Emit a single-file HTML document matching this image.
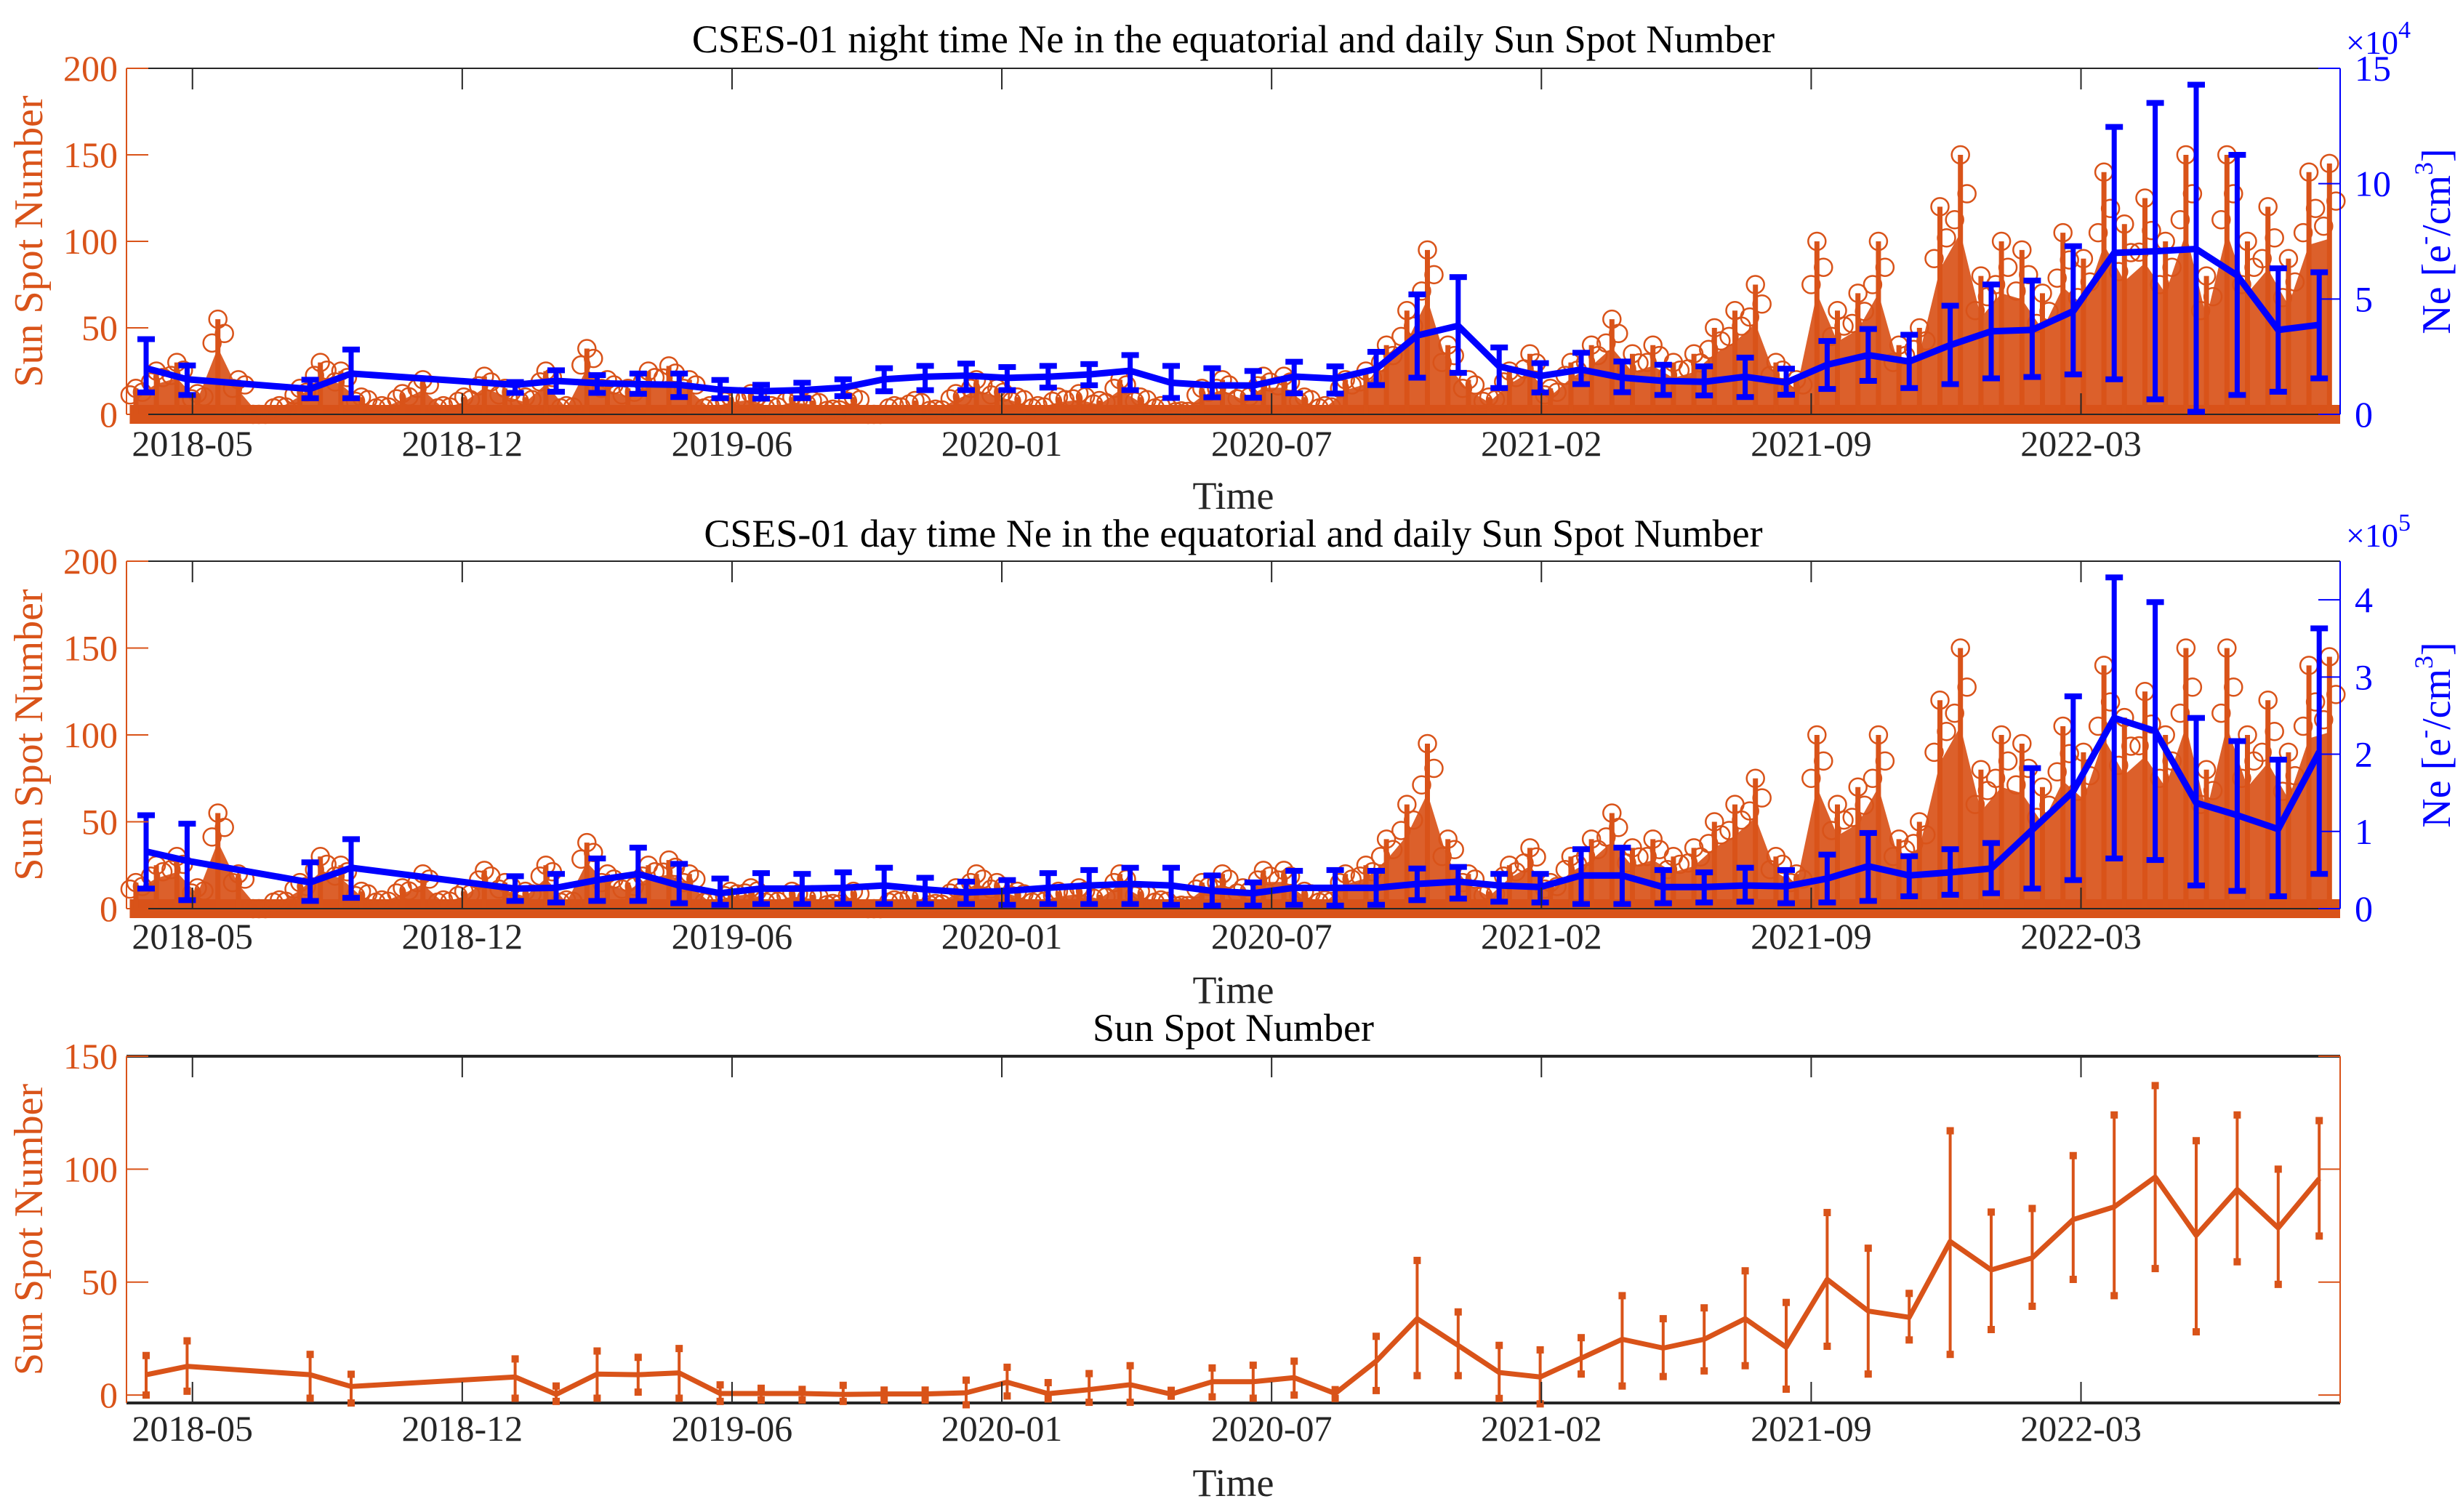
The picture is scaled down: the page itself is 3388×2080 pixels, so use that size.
<!DOCTYPE html>
<html><head><meta charset="utf-8">
<style>
html,body{margin:0;padding:0;background:#fff;}
svg{display:block;font-family:"Liberation Serif",serif;}
</style></head>
<body>
<svg id="chart" width="3388" height="2080" viewBox="0 0 3388 2080" xmlns="http://www.w3.org/2000/svg"></svg>
<script>
// ---------- data ----------
const tickMonths = [1.13, 7.71, 14.29, 20.87, 27.45, 34.03, 40.61, 47.19];
const tickLabels = ["2018-05","2018-12","2019-06","2020-01","2020-07","2021-02","2021-09","2022-03"];
const months = [0,1,4,5,9,10,11,12,13,14,15,16,17,18,19,20,21,22,23,24,25,26,27,28,29,30,31,32,33,34,35,36,37,38,39,40,41,42,43,44,45,46,47,48,49,50,51,52,53];
// night Ne (x1e4)
const neNight = [2.0,1.52,1.1,1.77,1.28,1.45,1.35,1.31,1.28,1.07,1.0,1.05,1.16,1.52,1.63,1.68,1.58,1.63,1.73,1.89,1.37,1.26,1.25,1.64,1.55,1.97,3.42,3.84,2.08,1.66,1.94,1.59,1.45,1.41,1.63,1.38,2.15,2.57,2.29,3.0,3.6,3.66,4.47,7.0,7.07,7.17,6.02,3.66,3.88];
const neNightLo = [0.95,0.84,0.7,0.7,0.93,0.98,0.93,0.89,0.75,0.7,0.68,0.7,0.79,1.0,1.05,1.05,1.05,1.16,1.26,1.05,0.71,0.74,0.72,0.91,0.9,1.27,1.59,1.8,1.14,0.95,1.31,0.96,0.84,0.82,0.75,0.85,1.1,1.45,1.14,1.31,1.56,1.62,1.73,1.52,0.65,0.11,0.84,0.98,1.56];
const neNightHi = [3.26,2.12,1.5,2.81,1.4,1.91,1.7,1.77,1.77,1.49,1.28,1.37,1.52,2.0,2.1,2.2,2.05,2.1,2.18,2.57,2.1,2.0,1.88,2.28,2.08,2.71,5.2,5.95,2.9,2.22,2.67,2.29,2.15,2.08,2.46,1.98,3.18,3.7,3.45,4.71,5.63,5.8,7.29,12.46,13.5,14.29,11.25,6.33,6.16];
// day Ne (x1e5)
const neDay = [0.74,0.62,0.34,0.53,0.26,0.27,0.37,0.45,0.3,0.2,0.26,0.26,0.27,0.3,0.25,0.21,0.23,0.27,0.3,0.32,0.3,0.23,0.2,0.27,0.27,0.27,0.32,0.35,0.3,0.28,0.43,0.43,0.28,0.28,0.3,0.29,0.39,0.55,0.43,0.47,0.52,1.02,1.52,2.47,2.3,1.37,1.21,1.03,2.03];
const neDayLo = [0.26,0.11,0.1,0.14,0.1,0.08,0.1,0.1,0.07,0.05,0.06,0.06,0.06,0.06,0.06,0.06,0.05,0.06,0.06,0.06,0.05,0.04,0.04,0.05,0.04,0.05,0.11,0.13,0.09,0.08,0.06,0.06,0.07,0.08,0.09,0.07,0.08,0.1,0.16,0.18,0.2,0.26,0.37,0.65,0.63,0.3,0.23,0.16,0.45];
const neDayHi = [1.21,1.1,0.6,0.9,0.42,0.45,0.65,0.79,0.58,0.39,0.46,0.45,0.47,0.53,0.4,0.35,0.37,0.46,0.5,0.53,0.53,0.43,0.34,0.49,0.5,0.49,0.52,0.54,0.45,0.45,0.77,0.79,0.5,0.47,0.53,0.5,0.7,0.98,0.68,0.77,0.85,1.82,2.75,4.29,3.97,2.47,2.17,1.93,3.63];
// monthly SSN
const ssnMean = [9,12.7,9,3.8,8,0.3,9.3,9,9.8,0.7,0.7,0.7,0.3,0.5,0.5,1,5.7,0.6,2.4,4.6,0.4,5.9,5.9,7.7,0.7,15,33.8,22,10,8,16.3,24.7,20.8,24.7,33.8,21.2,51.2,37.2,34.4,68,55.4,60.7,77.7,83.3,96.5,70.7,91,74,95.8];
const ssnLo = [0,1.7,-1.4,-3.5,-1.4,-2.8,-1.4,1.3,-1.4,-2.8,-2.2,-2.2,-2.8,-2.2,-2.2,-4.3,-0.4,-1.7,-3.2,-3.2,-0.5,-0.8,-1.4,0.0,-1.5,2,8.6,8.6,-1.5,-3.9,9.3,4,8.2,10.7,13,2.6,21.6,9.3,24.4,18,29,39.3,51.2,44,56,28,59,49,70.4];
const ssnHi = [17.5,24,18,9.2,16,4,19.5,16.7,20.6,4.5,3,2.5,4.3,2.2,2.2,6.6,12.3,5.5,9.5,13,2.1,12,13.2,15,2.4,26,59.6,36.8,22,20,25.4,44,33.8,38.6,55,41,80.8,65,45,117,81,82.6,106,124,137,112.6,124,100,121.5];
const ssnDaily = [15,25,30,12,55,20,0,5,15,30,25,10,5,12,20,5,10,22,15,10,25,5,38,20,15,25,28,20,5,10,12,5,10,8,3,10,0,5,8,3,12,20,15,10,5,10,12,8,20,10,5,2,15,20,12,22,22,10,5,20,25,40,60,95,40,20,10,25,35,15,30,40,55,35,40,30,35,50,60,75,30,20,100,60,70,100,40,50,120,150,80,100,95,70,105,90,140,110,125,100,150,80,150,100,120,90,140,145];

// ---------- helpers ----------
const NS = "http://www.w3.org/2000/svg";
const svg = document.getElementById('chart');
const ORANGE = "#D95319", BLUE = "#0000FF";
function el(tag, attrs, parent, text){
  const e = document.createElementNS(NS, tag);
  for (const k in attrs) e.setAttribute(k, attrs[k]);
  if (text !== undefined) e.textContent = text;
  (parent || svg).appendChild(e);
  return e;
}
const L = 174, R = 3219;
function xS(m){ return 201 + m * 56.4; }
function mkY(top, bottom, lo, hi){ return v => bottom - (v - lo) / (hi - lo) * (bottom - top); }

function xAxis(g, top, bottom, labelY, timeY){
  tickMonths.forEach((m, i) => {
    const x = xS(m);
    const t1 = el('line', {x1:x, x2:x, y1:bottom, y2:bottom-29, stroke:'#262626', 'stroke-width':2}, g);
    
    
    const t2 = el('line', {x1:x, x2:x, y1:top, y2:top+29, stroke:'#262626', 'stroke-width':2}, g);
    
    
    const lb = el('text', {x:x, y:labelY, 'font-size':50, 'text-anchor':'middle', fill:'#262626'}, g, tickLabels[i]);
    
    
  });
  const tl = el('text', {x:(L+R)/2, y:timeY, 'font-size':54, 'text-anchor':'middle', fill:'#262626'}, g, 'Time');
  
  
}

function ssnStems(g, yS, bottom){
  const grp = el('g', {}, g);
  
  
  const zb = el('line', {x1:xS(-0.4), x2:R, y1:yS(0), y2:yS(0), stroke:ORANGE, 'stroke-width':26}, grp);
  
  
  let d = 'M' + xS(-0.25) + ',' + yS(0);
  ssnDaily.forEach((v, k) => { d += ' L' + xS(-0.25 + k*0.5) + ',' + yS(v*0.7); });
  d += ' L' + xS(-0.25 + (ssnDaily.length-1)*0.5) + ',' + yS(0) + ' Z';
  const ar = el('path', {d:d, fill:ORANGE, opacity:0.92}, grp);
  
  
  ssnDaily.forEach((v, k) => {
    const x = xS(-0.25 + k*0.5);
    const s = el('line', {x1:x, x2:x, y1:yS(0), y2:yS(v), stroke:ORANGE, 'stroke-width':7}, grp);
    
    
    const c = el('circle', {cx:x, cy:yS(v), r:12, fill:'none', stroke:ORANGE, 'stroke-width':2.5}, grp);
    
    
    const c2 = el('circle', {cx:x+9, cy:yS(v*0.85), r:12, fill:'none', stroke:ORANGE, 'stroke-width':2.5}, grp);
    
    
    const c3 = el('circle', {cx:x-8, cy:yS(v*0.75), r:12, fill:'none', stroke:ORANGE, 'stroke-width':2.5}, grp);
    
    
  });
}

function errSeries(g, mean, lo, hi, yS, color, lw, bw, capW, capH, name){
  const grp = el('g', {}, g);
  
  
  let d = '';
  months.forEach((m, i) => { d += (i ? ' L' : 'M') + xS(m) + ',' + yS(mean[i]); });
  const ln = el('path', {d:d, fill:'none', stroke:color, 'stroke-width':lw, 'stroke-linejoin':'round'}, grp);
  
  
  months.forEach((m, i) => {
    const x = xS(m);
    const b = el('line', {x1:x, x2:x, y1:yS(lo[i]), y2:yS(hi[i]), stroke:color, 'stroke-width':bw}, grp);
    
    
    [lo[i], hi[i]].forEach(v => {
      const c = el('rect', {x:x-capW/2, y:yS(v)-capH/2, width:capW, height:capH, fill:color}, grp);
      
      
    });
  });
}

function leftAxis(g, top, bottom, yS, vals, color){
  const a = el('line', {x1:L, x2:L, y1:top, y2:bottom, stroke:color, 'stroke-width':2}, g);
  
  
  vals.forEach(v => {
    const y = yS(v);
    const t = el('line', {x1:L, x2:L+30, y1:y, y2:y, stroke:color, 'stroke-width':2}, g);
    
    
    const lb = el('text', {x:L-12, y:y+17, 'font-size':50, 'text-anchor':'end', fill:color}, g, String(v));
    
    
  });
  const cy = (top+bottom)/2;
  const t = el('text', {x:0, y:0, 'font-size':56, 'text-anchor':'middle', fill:color, transform:`translate(58,${cy}) rotate(-90)`}, g, 'Sun Spot Number');
  
  
}

function rightAxis(g, top, bottom, yS, vals, exp){
  const a = el('line', {x1:R, x2:R, y1:top, y2:bottom, stroke:BLUE, 'stroke-width':2}, g);
  
  
  vals.forEach(v => {
    const y = yS(v);
    const t = el('line', {x1:R, x2:R-30, y1:y, y2:y, stroke:BLUE, 'stroke-width':2}, g);
    
    
    const lb = el('text', {x:R+20, y:y+17, 'font-size':50, fill:BLUE}, g, String(v));
    
    
  });
  const ex = el('text', {x:R+8, y:top-20, 'font-size':46, fill:BLUE}, g);
  
  
  ex.innerHTML = '×10<tspan dy="-22" font-size="34">' + exp + '</tspan>';
  const cy = (top+bottom)/2;
  const t = el('text', {x:0, y:0, 'font-size':56, 'text-anchor':'middle', fill:BLUE, transform:`translate(3370,${cy}) rotate(-90)`}, g);
  
  
  t.innerHTML = 'Ne [e<tspan dy="-24" font-size="36">-</tspan><tspan dy="24">/cm</tspan><tspan dy="-24" font-size="36">3</tspan><tspan dy="24">]</tspan>';
}

function frame(g, top, bottom, w){
  [top, bottom].forEach(y => {
    const f = el('line', {x1:L, x2:R, y1:y, y2:y, stroke:'#262626', 'stroke-width':w}, g);
    
    
  });
}

function title(g, y, txt){
  const t = el('text', {x:(L+R)/2, y:y, 'font-size':54, 'text-anchor':'middle', fill:'#000'}, g, txt);
  
  
}

// ---------- panel 1: night ----------
(function(){
  const top = 94, bottom = 570;
  const g = el('g', {});
  
  
  const yL = mkY(top, bottom, 0, 200), yR = mkY(top, bottom, 0, 15);
  ssnStems(g, yL, bottom);
  frame(g, top, bottom, 2);
  errSeries(g, neNight, neNightLo, neNightHi, yR, BLUE, 9, 7, 24, 8, 'night-ne');
  leftAxis(g, top, bottom, yL, [0,50,100,150,200], ORANGE);
  rightAxis(g, top, bottom, yR, [0,5,10,15], 4);
  xAxis(g, top, bottom, 627, 700);
  title(g, 72, 'CSES-01 night time Ne in the equatorial and daily Sun Spot Number');
})();

// ---------- panel 2: day ----------
(function(){
  const top = 772, bottom = 1250;
  const g = el('g', {});
  
  
  const yL = mkY(top, bottom, 0, 200), yR = mkY(top, bottom, 0, 4.5);
  ssnStems(g, yL, bottom);
  frame(g, top, bottom, 2);
  errSeries(g, neDay, neDayLo, neDayHi, yR, BLUE, 9, 7, 24, 8, 'day-ne');
  leftAxis(g, top, bottom, yL, [0,50,100,150,200], ORANGE);
  rightAxis(g, top, bottom, yR, [0,1,2,3,4], 5);
  xAxis(g, top, bottom, 1305, 1380);
  title(g, 752, 'CSES-01 day time Ne in the equatorial and daily Sun Spot Number');
})();

// ---------- panel 3: SSN ----------
(function(){
  const top = 1453, bottom = 1930;
  const g = el('g', {});
  
  
  const yL = mkY(top, bottom, -3.5, 150);
  frame(g, top, bottom, 4);
  const ra = el('line', {x1:R, x2:R, y1:top, y2:bottom, stroke:ORANGE, 'stroke-width':2}, g);
  
  
  [0,50,100,150].forEach(v => {
    const t = el('line', {x1:R, x2:R-30, y1:yL(v), y2:yL(v), stroke:ORANGE, 'stroke-width':2}, g);
    
    
  });
  errSeries(g, ssnMean, ssnLo, ssnHi, yL, ORANGE, 7, 4, 10, 10, 'monthly-ssn');
  leftAxis(g, top, bottom, yL, [0,50,100,150], ORANGE);
  xAxis(g, top, bottom, 1982, 2058);
  title(g, 1432, 'Sun Spot Number');
})();
</script>
</body></html>
